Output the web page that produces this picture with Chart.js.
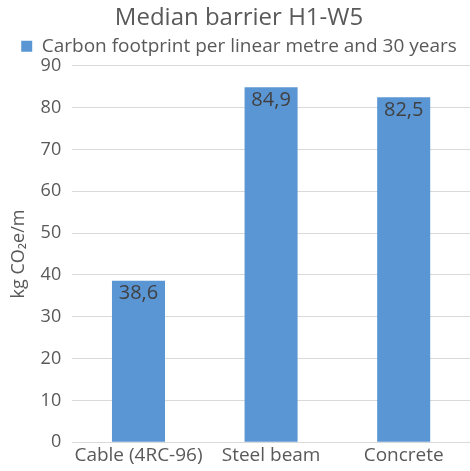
<!DOCTYPE html>
<html>
<head>
<meta charset="utf-8">
<script src="https://cdn.jsdelivr.net/npm/chart.js@4"></script>
<style>
  body { margin: 0; background: #fff; }
  #wrap { width: 470px; height: 471px; }
</style>
</head>
<body>
<div id="wrap"><canvas id="chart" width="470" height="471"></canvas></div>
<script>
const categories = ['Cable (4RC-96)', 'Steel beam', 'Concrete'];
const footprint = [38.6, 84.9, 82.5];
const seriesName = 'Carbon footprint per linear metre and 30 years';
const yTicks = [0, 10, 20, 30, 40, 50, 60, 70, 80, 90];

const fontFamily = '"Open Sans", "Noto Sans", sans-serif';

// value labels drawn inside the top of each bar
const barLabels = {
  id: 'barLabels',
  afterDatasetsDraw(chart) {
    const ctx = chart.ctx;
    const meta = chart.getDatasetMeta(0);
    ctx.save();
    ctx.font = '20px ' + fontFamily;
    ctx.fillStyle = '#404040';
    ctx.textAlign = 'center';
    ctx.textBaseline = 'top';
    meta.data.forEach((bar, i) => {
      const txt = footprint[i].toFixed(1).replace('.', ',');
      ctx.fillText(txt, bar.x, bar.y + 3);
    });
    ctx.restore();
  }
};

new Chart(document.getElementById('chart'), {
  type: 'bar',
  data: {
    labels: categories,
    datasets: [{
      label: seriesName,
      data: footprint,
      backgroundColor: '#5b96d4',
      borderWidth: 0,
      categoryPercentage: 1,
      barPercentage: 0.4
    }]
  },
  options: {
    responsive: false,
    animation: false,
    layout: { padding: { left: 8, right: 0, top: 0, bottom: 2 } },
    plugins: {
      title: {
        display: true,
        text: 'Median barrier H1-W5',
        color: '#595959',
        font: { family: fontFamily, size: 24, weight: 'normal' },
        padding: { top: 4, bottom: 1 }
      },
      legend: {
        position: 'top',
        labels: {
          color: '#595959',
          font: { family: fontFamily, size: 19 },
          boxWidth: 11,
          boxHeight: 11,
          padding: 3
        }
      },
      tooltip: { enabled: false }
    },
    scales: {
      y: {
        min: 0,
        max: 90,
        afterBuildTicks: axis => { axis.ticks = yTicks.map(v => ({ value: v })); },
        grid: { color: '#d9d9d9', drawTicks: false },
        border: { display: false },
        ticks: {
          color: '#595959',
          font: { family: fontFamily, size: 18 },
          padding: 11
        },
        title: {
          display: true,
          text: 'kg CO₂e/m',
          color: '#595959',
          font: { family: fontFamily, size: 18 },
          padding: { top: 0, bottom: 0 }
        }
      },
      x: {
        grid: { display: false, drawTicks: false },
        border: { display: true, color: '#d9d9d9' },
        ticks: {
          color: '#595959',
          font: { family: fontFamily, size: 19 },
          padding: 2,
          maxRotation: 0
        }
      }
    }
  },
  plugins: [barLabels]
});
</script>
</body>
</html>
